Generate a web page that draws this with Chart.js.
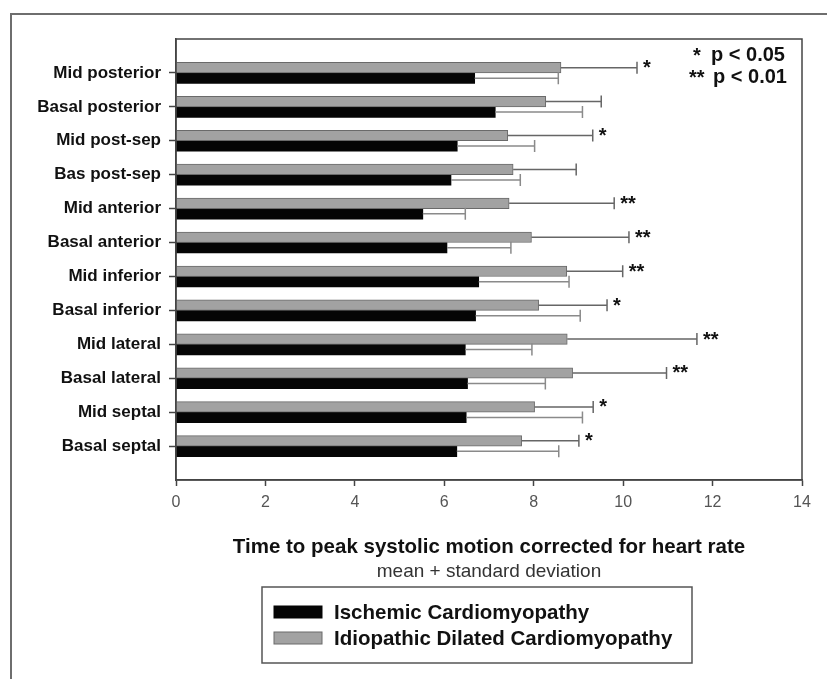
<!DOCTYPE html>
<html>
<head>
<meta charset="utf-8">
<script src="https://cdn.jsdelivr.net/npm/chart.js@4"></script>
<style>
  html, body { margin: 0; padding: 0; background: #fff; }
  #wrap { position: relative; width: 827px; height: 679px; }
</style>
</head>
<body>
<div id="wrap"><canvas id="segmentChart" width="827" height="679"></canvas></div>
<script>
const categories = ['Mid posterior', 'Basal posterior', 'Mid post-sep', 'Bas post-sep', 'Mid anterior',
  'Basal anterior', 'Mid inferior', 'Basal inferior', 'Mid lateral', 'Basal lateral', 'Mid septal', 'Basal septal'];
const ischemicMean = [6.68, 7.14, 6.29, 6.15, 5.52, 6.06, 6.77, 6.70, 6.47, 6.52, 6.49, 6.28];
const ischemicSD = [1.87, 1.95, 1.73, 1.55, 0.95, 1.43, 2.02, 2.34, 1.49, 1.74, 2.60, 2.28];
const idiopathicMean = [8.61, 8.27, 7.42, 7.54, 7.45, 7.95, 8.74, 8.11, 8.75, 8.87, 8.02, 7.73];
const idiopathicSD = [1.70, 1.24, 1.90, 1.41, 2.35, 2.18, 1.25, 1.53, 2.90, 2.10, 1.31, 1.28];
const significance = ['*', '', '*', '', '**', '**', '**', '*', '**', '**', '*', '*'];
const xTicks = [0, 2, 4, 6, 8, 10, 12, 14];

const FONT = '"Liberation Sans", Arial, Helvetica, sans-serif';

// empty slot above and below so the bars sit half a band in from the frame
const pad = arr => [null, ...arr, null];
const yLabels = ['', ...categories, ''];

const errorBars = {
  id: 'errorBars',
  afterDatasetsDraw(chart) {
    const ctx = chart.ctx;
    const x = chart.scales.x;
    chart.data.datasets.forEach((ds, di) => {
      const meta = chart.getDatasetMeta(di);
      meta.data.forEach((bar, i) => {
        if (ds.data[i] == null) return;
        const x0 = x.getPixelForValue(ds.data[i]);
        const x1 = x.getPixelForValue(ds.data[i] + ds.sd[i]);
        ctx.save();
        ctx.strokeStyle = ds.errColor;
        ctx.lineWidth = 1.5;
        ctx.beginPath();
        ctx.moveTo(x0, bar.y);
        ctx.lineTo(x1, bar.y);
        ctx.moveTo(x1, bar.y - 6);
        ctx.lineTo(x1, bar.y + 6);
        ctx.stroke();
        if (ds.stars) {
          const s = ds.stars[i];
          if (s) {
            ctx.fillStyle = '#111';
            ctx.font = 'bold 20px ' + FONT;
            ctx.textBaseline = 'middle';
            ctx.textAlign = 'left';
            ctx.fillText(s, x1 + 6, bar.y + 1);
          }
        }
        ctx.restore();
      });
    });
  }
};

const decorations = {
  id: 'decorations',
  afterDraw(chart) {
    const ctx = chart.ctx;
    const a = chart.chartArea;
    ctx.save();
    // outer figure frame (top and left only)
    ctx.strokeStyle = '#6e6e6e';
    ctx.lineWidth = 2;
    ctx.beginPath();
    ctx.moveTo(827, 14);
    ctx.lineTo(11, 14);
    ctx.lineTo(11, 679);
    ctx.stroke();

    // plot frame
    ctx.strokeStyle = '#444';
    ctx.lineWidth = 1.5;
    ctx.strokeRect(a.left, a.top, a.right - a.left, a.bottom - a.top);

    // p-value key
    ctx.fillStyle = '#111';
    ctx.font = 'bold 20px ' + FONT;
    ctx.textBaseline = 'middle';
    ctx.textAlign = 'left';
    ctx.fillText('*', 693, 56);
    ctx.fillText('p < 0.05', 711, 55);
    ctx.fillText('**', 689, 78);
    ctx.fillText('p < 0.01', 713, 77);

    // axis titles
    const cx = (a.left + a.right) / 2;
    ctx.textAlign = 'center';
    ctx.font = 'bold 20.5px ' + FONT;
    ctx.fillStyle = '#111';
    ctx.fillText('Time to peak systolic motion corrected for heart rate', cx, 547);
    ctx.font = '19px ' + FONT;
    ctx.fillStyle = '#333';
    ctx.fillText('mean + standard deviation', cx, 572);

    // legend box
    ctx.strokeStyle = '#555';
    ctx.lineWidth = 1.5;
    ctx.strokeRect(262, 587, 430, 76);
    const items = [chart.data.datasets[1], chart.data.datasets[0]];
    items.forEach((ds, k) => {
      const y = 612 + k * 26;
      ctx.fillStyle = ds.backgroundColor;
      ctx.fillRect(274, y - 6, 48, 12);
      ctx.strokeStyle = ds.borderColor;
      ctx.lineWidth = 1;
      ctx.strokeRect(274, y - 6, 48, 12);
      ctx.fillStyle = '#111';
      ctx.font = 'bold 20.5px ' + FONT;
      ctx.textAlign = 'left';
      ctx.fillText(ds.label, 334, y + 1);
    });
    ctx.restore();
  }
};

new Chart(document.getElementById('segmentChart'), {
  type: 'bar',
  data: {
    labels: yLabels,
    datasets: [
      {
        label: 'Idiopathic Dilated Cardiomyopathy',
        data: pad(idiopathicMean),
        sd: pad(idiopathicSD),
        stars: pad(significance),
        backgroundColor: '#a2a2a2',
        borderColor: '#6a6a6a',
        borderWidth: 1,
        errColor: '#666',
        barThickness: 10.5
      },
      {
        label: 'Ischemic Cardiomyopathy',
        data: pad(ischemicMean),
        sd: pad(ischemicSD),
        backgroundColor: '#050505',
        borderColor: '#050505',
        borderWidth: 0,
        errColor: '#8a8a8a',
        barThickness: 10.5
      }
    ]
  },
  options: {
    indexAxis: 'y',
    responsive: false,
    animation: false,
    layout: { padding: { left: 0, top: 39, right: 25, bottom: 0 } },
    plugins: { legend: { display: false }, tooltip: { enabled: false } },
    scales: {
      x: {
        min: 0,
        max: 14,
        afterBuildTicks: s => { s.ticks = xTicks.map(v => ({ value: v })); },
        afterFit: s => { s.height = 199; },
        grid: { drawOnChartArea: false, tickLength: 6, tickColor: '#444', tickWidth: 1.5 },
        border: { color: '#444', width: 1.5 },
        ticks: { color: '#555', font: { family: FONT, size: 16 }, padding: 7 }
      },
      y: {
        offset: false,
        afterFit: s => { s.width = 176; },
        grid: {
          offset: false,
          drawOnChartArea: false,
          tickLength: 7,
          tickWidth: 1.5,
          tickColor: c => (c.index === 0 || c.index === yLabels.length - 1) ? 'rgba(0,0,0,0)' : '#444'
        },
        border: { color: '#444', width: 1.5 },
        ticks: { color: '#111', font: { family: FONT, size: 17, weight: 'bold' }, padding: 8, autoSkip: false }
      }
    }
  },
  plugins: [errorBars, decorations]
});
</script>
</body>
</html>
